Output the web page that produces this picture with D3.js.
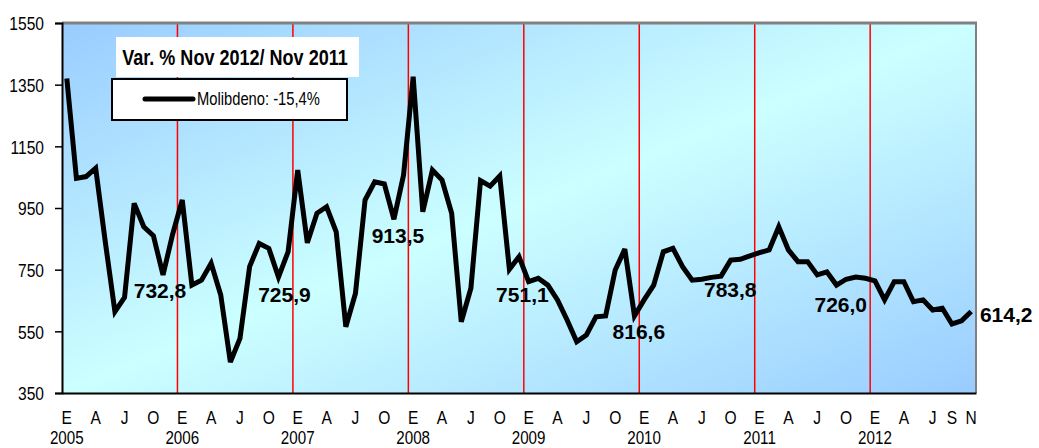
<!DOCTYPE html>
<html>
<head>
<meta charset="utf-8">
<script src="https://cdn.jsdelivr.net/npm/d3@7/dist/d3.min.js"></script>
<style>
  html, body { margin: 0; padding: 0; background: #ffffff; }
  svg { display: block; }
</style>
</head>
<body>
<svg id="chart" width="1039" height="448"></svg>
<script>
// ---------------- DATA ----------------
const years = [2005, 2006, 2007, 2008, 2009, 2010, 2011, 2012];
const monthLetters = ["E", "F", "M", "A", "M", "J", "J", "A", "S", "O", "N", "D"];
const lastMonthIndex = 10; // Nov 2012
const values = [
  // 2005
  1370, 1046, 1052, 1079, 840, 614, 660, 965, 889, 860, 732.8, 865,
  // 2006
  976, 700, 716, 771, 668, 450, 527, 760, 835, 819, 725.9, 808,
  // 2007
  1073, 837, 933, 954, 873, 565, 673, 976, 1035, 1028, 913.5, 1057,
  // 2008
  1376, 938, 1073, 1041, 933, 581, 690, 1039, 1021, 1054, 751.1, 792,
  // 2009
  711, 722, 700, 652, 587, 516, 538, 597, 600, 749, 816.6, 600,
  // 2010
  652, 700, 808, 819, 760, 716, 719, 725, 729, 781, 783.8, 795,
  // 2011
  805, 814, 889, 814, 776, 776, 733, 743, 700, 719, 726.0, 722,
  // 2012
  714, 652, 711, 711, 646, 652, 619, 625, 574, 584, 614.2
];
const yTicks = [350, 550, 750, 950, 1150, 1350, 1550];
const yDomain = [350, 1550];
const tickMonthsRegular = [0, 3, 6, 9];        // E A J O
const tickMonthsLast = [0, 3, 6, 8, 10];       // E A J S N
const labelledMonth = 10;                      // November of each year
const titleText = "Var. % Nov 2012/ Nov 2011";
const legendText = "Molibdeno: -15,4%";

// label placement offsets (layout only), one per year
const labelOffsets = [
  [-3, 23], [6, 25], [4, 24], [13, 33], [14, 90], [-10, 38], [-15, 35], [35, 10]
];

// ---------------- BUILD ----------------
const categories = [];
years.forEach(yr => {
  for (let m = 0; m < 12; m++) {
    if (yr === years[years.length - 1] && m > lastMonthIndex) break;
    categories.push({ key: yr + "-" + m, year: yr, month: m });
  }
});
const series = categories.map((c, i) => ({ ...c, value: values[i] }));

// narrow font detection
function narrowAvailable() {
  const c = document.createElement("canvas").getContext("2d");
  const s = "Molibdeno 2012 Var";
  c.font = '40px "Liberation Sans Narrow", monospace';
  const a = c.measureText(s).width;
  c.font = "40px monospace";
  const b = c.measureText(s).width;
  return Math.abs(a - b) > 1;
}
const hasNarrow = narrowAvailable();
const narrowFamily = hasNarrow ? '"Liberation Sans Narrow", "Arial Narrow", sans-serif' : '"Liberation Sans", Arial, sans-serif';
const sx = hasNarrow ? 1 : 0.82;

function narrowText(sel) {
  sel.style("font-family", narrowFamily);
  if (sx !== 1) {
    sel.each(function () {
      const t = d3.select(this);
      const x = +t.attr("x") || 0;
      t.attr("x", x / sx).attr("transform", (t.attr("transform") || "") + ` scale(${sx},1)`);
    });
  }
  return sel;
}

const svg = d3.select("#chart");
const L = 62, R = 976, T = 23, B = 393;

const x = d3.scaleBand().domain(categories.map(c => c.key)).range([L, R]).padding(0);
const y = d3.scaleLinear().domain(yDomain).range([B, T]);
const cx = k => x(k) + x.bandwidth() / 2;

// background gradient
const defs = svg.append("defs");
const grad = defs.append("linearGradient").attr("id", "bg")
  .attr("x1", "0").attr("y1", "0").attr("x2", "1").attr("y2", "1");
grad.append("stop").attr("offset", "0%").attr("stop-color", "#99ccff");
grad.append("stop").attr("offset", "50%").attr("stop-color", "#ccffff");
grad.append("stop").attr("offset", "100%").attr("stop-color", "#99ccff");

svg.append("rect").attr("x", L).attr("y", T).attr("width", R - L).attr("height", B - T)
  .attr("fill", "url(#bg)");

// red year separators
const janKeys = categories.filter(c => c.month === 0 && c.year !== years[0]).map(c => c.key);
svg.append("g").selectAll("line").data(janKeys).join("line")
  .attr("x1", d => x(d)).attr("x2", d => x(d))
  .attr("y1", T).attr("y2", B)
  .attr("stroke", "#ff0000").attr("stroke-width", 1.5);

// borders
svg.append("line").attr("x1", L).attr("x2", R + 1).attr("y1", T).attr("y2", T)
  .attr("stroke", "#808080").attr("stroke-width", 3);
svg.append("line").attr("x1", R).attr("x2", R).attr("y1", T).attr("y2", B)
  .attr("stroke", "#808080").attr("stroke-width", 2);

// y axis
const yAxis = svg.append("g").attr("transform", `translate(${L},0)`)
  .call(d3.axisLeft(y).tickValues(yTicks).tickSize(7).tickPadding(11).tickFormat(d3.format("d")));
yAxis.select(".domain").attr("stroke", "#000").attr("stroke-width", 2);
yAxis.selectAll(".tick line").attr("stroke", "#000").attr("stroke-width", 1.5);
yAxis.selectAll(".tick text").attr("fill", "#000").style("font-size", "19px").attr("dy", "0.36em");
narrowText(yAxis.selectAll(".tick text"));

// x axis (month letters)
const monthTickKeys = categories.filter(c =>
  (c.year === years[years.length - 1] ? tickMonthsLast : tickMonthsRegular).includes(c.month)
).map(c => c.key);
const keyToCat = new Map(categories.map(c => [c.key, c]));
const xAxis = svg.append("g").attr("transform", `translate(0,${B})`)
  .call(d3.axisBottom(x).tickValues(monthTickKeys).tickSize(0).tickPadding(0)
    .tickFormat(k => monthLetters[keyToCat.get(k).month]));
xAxis.select(".domain").attr("stroke", "#000").attr("stroke-width", 2);
xAxis.selectAll(".tick text").attr("fill", "#000").style("font-size", "19px")
  .attr("y", 31).attr("dy", null);
narrowText(xAxis.selectAll(".tick text"));

// x axis (years)
const yearKeys = categories.filter(c => c.month === 0).map(c => c.key);
const xAxisY = svg.append("g").attr("transform", `translate(0,${B})`)
  .call(d3.axisBottom(x).tickValues(yearKeys).tickSize(0).tickPadding(0)
    .tickFormat(k => String(keyToCat.get(k).year)));
xAxisY.select(".domain").remove();
xAxisY.selectAll(".tick text").attr("fill", "#000").style("font-size", "18.5px")
  .attr("y", 51).attr("dy", null);
narrowText(xAxisY.selectAll(".tick text"));

// title box
svg.append("rect").attr("x", 116).attr("y", 37).attr("width", 243).attr("height", 40).attr("fill", "#fff");
narrowText(svg.append("text").attr("x", 0).attr("y", 0)
  .attr("text-anchor", "middle").attr("fill", "#000")
  .style("font-size", "22px").style("font-weight", "bold").text(titleText))
  .attr("transform", function () { return `translate(235,65) ` + (d3.select(this).attr("transform") || ""); });

// legend box
svg.append("rect").attr("x", 112).attr("y", 79).attr("width", 235).attr("height", 41)
  .attr("fill", "#fff").attr("stroke", "#000").attr("stroke-width", 2);
svg.append("line").attr("x1", 145).attr("x2", 193).attr("y1", 99).attr("y2", 99)
  .attr("stroke", "#000").attr("stroke-width", 5).attr("stroke-linecap", "round");
narrowText(svg.append("text").attr("x", 0).attr("y", 0).attr("fill", "#000")
  .style("font-size", "18px").text(legendText))
  .attr("transform", function () { return `translate(197,105) ` + (d3.select(this).attr("transform") || ""); });

// data line
const line = d3.line().x(d => cx(d.key)).y(d => y(d.value));
svg.append("path").datum(series).attr("d", line)
  .attr("fill", "none").attr("stroke", "#000").attr("stroke-width", 5)
  .attr("stroke-linejoin", "miter").attr("stroke-miterlimit", 3);

// data labels (November of each year)
const labelled = series.filter(d => d.month === labelledMonth);
const fmt = v => v.toFixed(1).replace(".", ",");
svg.append("g").selectAll("text").data(labelled).join("text")
  .attr("x", (d, i) => cx(d.key) + labelOffsets[i][0])
  .attr("y", (d, i) => y(d.value) + labelOffsets[i][1])
  .attr("text-anchor", "middle")
  .style("font-family", '"Liberation Sans", Arial, sans-serif')
  .style("font-size", "21px").style("font-weight", "bold").attr("fill", "#000")
  .text(d => fmt(d.value));
</script>
</body>
</html>
